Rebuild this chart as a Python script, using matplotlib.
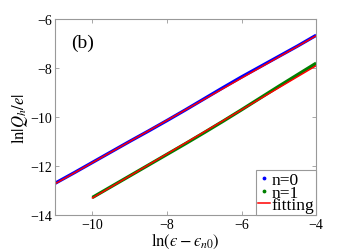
import matplotlib
matplotlib.use("Agg")
import matplotlib.pyplot as plt
from matplotlib.lines import Line2D

plt.rcParams["font.family"] = ["Liberation Serif", "DejaVu Serif"]
plt.rcParams["mathtext.fontset"] = "stix"

# ln(eps - eps_n0) samples and ln|Q_h/e|
x_n0 = [-11, -10.5, -10, -9.5, -9, -8.5, -8, -7.5, -7, -6.5, -6, -5.5, -5, -4.5, -4]
y_n0 = [-12.70, -12.28, -11.85, -11.42, -10.99, -10.57, -10.14, -9.70,
        -9.25, -8.80, -8.36, -7.94, -7.52, -7.10, -6.66]

x_n1 = [-10, -9.5, -9, -8.5, -8, -7.5, -7, -6.5, -6, -5.5, -5, -4.5, -4]
y_n1 = [-13.28, -12.84, -12.40, -11.96, -11.52, -11.08, -10.63, -10.17,
        -9.70, -9.22, -8.74, -8.27, -7.80]

# linear fits (end points)
fit_n0_x = [-11, -4]
fit_n0_y = [-12.72, -6.68]
fit_n1_x = [-10, -4]
fit_n1_y = [-13.30, -7.90]

fig = plt.figure(figsize=(3.49, 2.51), dpi=100)
ax = fig.add_axes([0.158, 0.139, 0.748, 0.781])

ax.plot(x_n0, y_n0, color="blue", lw=2.4, solid_capstyle="butt")
ax.plot(x_n1, y_n1, color="green", lw=2.4, solid_capstyle="butt")
ax.plot(fit_n0_x, fit_n0_y, color="red", lw=1.1)
ax.plot(fit_n1_x, fit_n1_y, color="red", lw=1.1)

ax.set_xlim(-11, -4)
ax.set_ylim(-14, -6)
ax.set_xticks([-10, -8, -6, -4])
ax.set_yticks([-14, -12, -10, -8, -6])
ax.set_xticklabels(["\u221210", "\u22128", "\u22126", "\u22124"])
ax.set_yticklabels(["\u221214", "\u221212", "\u221210", "\u22128", "\u22126"])
ax.tick_params(direction="in", length=3, width=0.6, color="#999999",
               top=True, right=True, labelsize=10, pad=2)
for s in ax.spines.values():
    s.set_color("#999999")
    s.set_linewidth(0.8)

ax.set_xlabel("$\\ln(\u03f5-\u03f5_{n0})$", fontsize=12, labelpad=0)
ax.set_ylabel(r"$\ln|Q_h/e|$", fontsize=12, labelpad=0)
ax.text(0.06, 0.88, "(b)", transform=ax.transAxes, fontsize=14, va="center")

handles = [
    Line2D([], [], ls="none", marker=".", ms=3.5, color="blue"),
    Line2D([], [], ls="none", marker=".", ms=3.5, color="green"),
    Line2D([], [], color="red", lw=1.1),
]
leg = ax.legend(handles, ["n=0", "n=1", "fitting"], loc="lower right",
                fontsize=12.5, handlelength=0.7, handletextpad=0.1,
                labelspacing=-0.2, borderpad=0.1, borderaxespad=0.0,
                fancybox=False, framealpha=1)
leg.get_frame().set_edgecolor("#999999")
leg.get_frame().set_linewidth(0.8)

fig.savefig("out.png", dpi=100)
